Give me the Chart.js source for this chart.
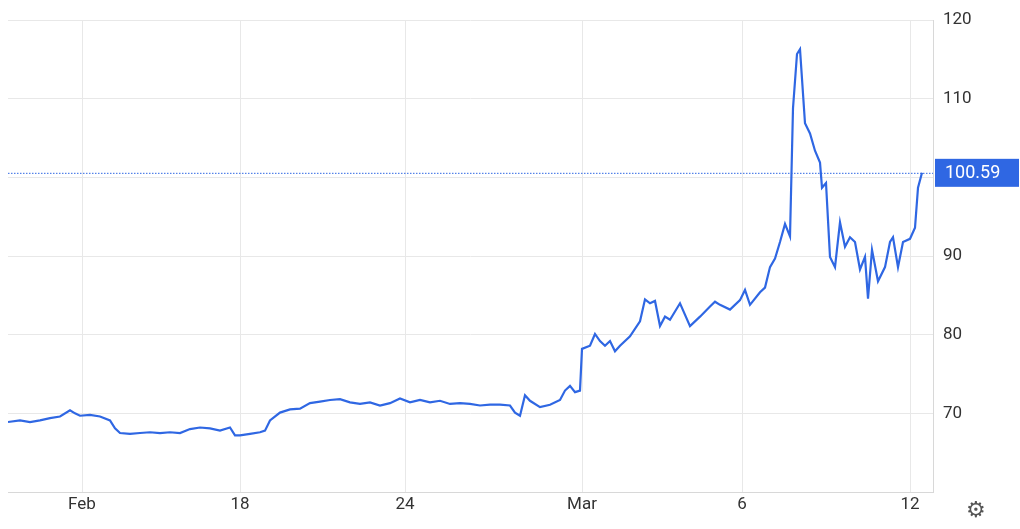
<!DOCTYPE html>
<html><head><meta charset="utf-8">
<script src="https://cdn.jsdelivr.net/npm/chart.js@4"></script>
<style>html,body{margin:0;padding:0;background:#fff}#c{width:1020px;height:529px;display:block}</style>
</head><body><canvas id="c" width="1020" height="529"></canvas>
<script>
// x in session units, y in price
const xs = [0,2.4,4.4,6.4,8.4,10.4,12.4,13.4,14.4,16.4,18.4,20.4,21.4,22.4,24.4,26.4,28.4,30.4,32.4,34.4,36.4,38.4,40.4,42.4,44.4,45.4,46.4,48.4,50.4,51.4,52.4,54.4,56.4,58.4,60.4,62.4,64.4,66.4,68.4,70.4,72.4,74.4,76.4,78.4,80.4,82.4,84.4,86.4,88.4,90.4,92.4,94.4,96.4,98.4,100.4,101.4,102.4,103.4,104.4,106.4,108.4,110.4,111.4,112.4,113.4,114.4,114.8,116.4,117.4,118.4,119.4,120.4,121.4,122.4,124.4,126.4,127.4,128.4,129.4,130.4,131.4,132.4,134.4,136.4,138.4,140.4,141.4,142.4,144.4,146.4,147.4,148.4,150.4,151.4,152.4,153.4,154.4,155.4,156.4,157,157.8,158.4,159.4,160.4,161.4,162.4,162.8,163.6,164.4,165.4,166.4,167.4,168.4,169.4,170.4,171.4,172,172.8,174,175.4,176.4,177,178,179,180.4,181.4,182,182.8];
const ys = [68.9,69.1,68.9,69.1,69.4,69.6,70.4,70.0,69.7,69.8,69.6,69.1,68.1,67.5,67.4,67.5,67.6,67.5,67.6,67.5,68.0,68.2,68.1,67.8,68.2,67.2,67.2,67.4,67.6,67.8,69.1,70.1,70.5,70.6,71.3,71.5,71.7,71.8,71.4,71.2,71.4,71.0,71.3,71.9,71.4,71.7,71.4,71.6,71.2,71.3,71.2,71.0,71.1,71.1,71.0,70.1,69.7,72.3,71.6,70.8,71.1,71.7,72.9,73.5,72.7,72.9,78.2,78.6,80.1,79.2,78.6,79.2,77.9,78.6,79.8,81.7,84.5,84.0,84.3,81.1,82.3,81.9,84.0,81.1,82.3,83.6,84.2,83.8,83.2,84.4,85.7,83.8,85.4,86.0,88.6,89.7,91.8,94.1,92.5,108.8,115.7,116.3,106.9,105.6,103.4,101.9,98.7,99.3,89.9,88.6,94.3,91.2,92.4,91.8,88.3,89.9,84.6,90.8,86.8,88.6,91.8,92.4,88.6,91.8,92.2,93.6,98.7,100.59];
const tickPos = [14.8,46.4,79.4,114.8,146.8,180.4];
const tickLabels = ['Feb','18','24','Mar','6','12'];
const lastPrice = 100.59;
const yTicks = [70,80,90,100,110,120];
const blue = '#2f67e3';

const pts = xs.map((x,i)=>({x, y: ys[i]}));
const lastLine = {
  id:'lastLine',
  afterDatasetsDraw(c){
    const {ctx, chartArea:a, scales:{y}} = c;
    const py = y.getPixelForValue(lastPrice);
    ctx.save();
    ctx.strokeStyle = blue; ctx.lineWidth = 1; ctx.setLineDash([1.5,1.5]);
    ctx.beginPath(); ctx.moveTo(a.left, py+0.5); ctx.lineTo(a.right, py+0.5); ctx.stroke();
    ctx.setLineDash([]);
    ctx.fillStyle = blue;
    ctx.fillRect(a.right+2, py-14, 84, 28);
    ctx.fillStyle = '#fff'; ctx.font = '18px Roboto'; ctx.textBaseline='middle';
    ctx.fillText(lastPrice.toFixed(2), a.right+12, py+1);
    ctx.fillStyle = '#555'; ctx.font = '22px "DejaVu Sans"';
    ctx.fillText('⚙', 966, 511);
    ctx.restore();
  }
};
new Chart(document.getElementById('c'), {
  type:'line',
  data:{datasets:[{data:pts, borderColor:blue, borderWidth:2.2, pointRadius:0, tension:0, fill:false}]},
  options:{
    responsive:false, animation:false,
    layout:{padding:{left:8, top:6, right:0, bottom:0}},
    plugins:{legend:{display:false}, tooltip:{enabled:false}},
    scales:{
      x:{type:'linear', min:0, max:185,
        afterBuildTicks(s){ s.ticks = tickPos.map(v=>({value:v})); },
        afterFit(s){ s.height = 37; },
        ticks:{autoSkip:false, maxRotation:0, color:'#333', font:{family:'Roboto', size:17},
          callback:(v,i)=>tickLabels[i]},
        grid:{color:'#e8e8e8', drawTicks:false}, border:{display:true,color:'#d8d8d8'}},
      y:{position:'right', min:60, max:120,
        afterBuildTicks(s){ s.ticks = [60,...yTicks].map(v=>({value:v})); },
        afterFit(s){ s.width = 87; },
        ticks:{color:'#333', padding:10, font:{family:'Roboto', size:17},
          callback:v=> v===60?'':String(v)},
        grid:{color:'#e8e8e8', drawTicks:false}, border:{display:true,color:'#d8d8d8'}}
    }
  },
  plugins:[lastLine]
});
</script></body></html>
